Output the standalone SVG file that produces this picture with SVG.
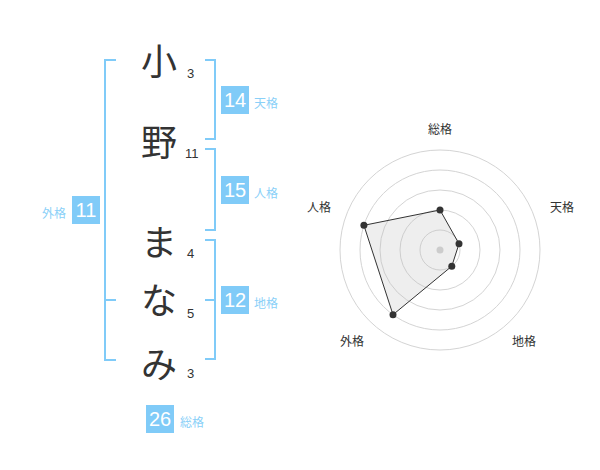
<svg xmlns="http://www.w3.org/2000/svg" width="600" height="470" viewBox="0 0 600 470">
<style>
.ch{font-family:"Noto Sans CJK JP",sans-serif;font-size:36px;fill:#333;text-anchor:middle;dominant-baseline:central}
.sn{font-family:"Liberation Sans","Noto Sans CJK JP",sans-serif;font-size:13px;fill:#333}
.br{fill:none;stroke:#80cbf8;stroke-width:2}
.bx{fill:#80cbf8}
.bn{font-family:"Liberation Sans",sans-serif;font-size:20px;fill:#fff;text-anchor:middle}
.lb{font-family:"Noto Sans CJK JP",sans-serif;font-size:12px;fill:#8ad0f8}
.ring{fill:none;stroke:#d4d4d4;stroke-width:1}
.rl{font-family:"Noto Sans CJK JP",sans-serif;font-size:12px;fill:#333;text-anchor:middle}
.pt{fill:#333}
</style>
<rect width="600" height="470" fill="#fff"/>
<g id="name-chars">
<g id="c1"><text class="ch" x="159" y="59">小</text><text class="sn" x="187" y="78">3</text></g>
<g id="c2"><text class="ch" x="159" y="140">野</text><text class="sn" x="185" y="158">11</text></g>
<g id="c3"><text class="ch" x="159" y="240">ま</text><text class="sn" x="187" y="258">4</text></g>
<g id="c4"><text class="ch" x="159" y="298">な</text><text class="sn" x="187" y="318">5</text></g>
<g id="c5"><text class="ch" x="159" y="362">み</text><text class="sn" x="187" y="378">3</text></g>
</g>
<g id="connectors">
<path class="br" d="M116,60 H105 V360 H116 M105,300 H116"/>
<path class="br" d="M205,60 H215 V139 H205"/>
<path class="br" d="M205,149 H215 V230 H205"/>
<path class="br" d="M205,240 H215 V359 H205 M215,300 H205"/>
</g>
<g id="tenkaku"><rect class="bx" x="221" y="86" width="28" height="28"/><text class="bn" x="235" y="107">14</text><text class="lb" x="254" y="108">天格</text></g>
<g id="jinkaku"><rect class="bx" x="221" y="176" width="28" height="28"/><text class="bn" x="235" y="197">15</text><text class="lb" x="254" y="198">人格</text></g>
<g id="chikaku"><rect class="bx" x="221" y="286" width="28" height="28"/><text class="bn" x="235" y="307">12</text><text class="lb" x="254" y="308">地格</text></g>
<g id="gaikaku"><rect class="bx" x="72" y="196" width="28" height="28"/><text class="bn" x="86" y="217">11</text><text class="lb" x="66" y="218" text-anchor="end">外格</text></g>
<g id="soukaku"><rect class="bx" x="146" y="405" width="28" height="28"/><text class="bn" x="160" y="426">26</text><text class="lb" x="180" y="427">総格</text></g>
<g id="radar">
<circle class="ring" cx="440" cy="250" r="20"/>
<circle class="ring" cx="440" cy="250" r="40"/>
<circle class="ring" cx="440" cy="250" r="60"/>
<circle class="ring" cx="440" cy="250" r="80"/>
<circle class="ring" cx="440" cy="250" r="100"/>
<polygon points="440,210 459,243.8 451.8,266.2 393,314.7 363.9,225.3" fill="#bbb" fill-opacity="0.25" stroke="#333" stroke-width="1"/>
<circle cx="440" cy="250" r="3.5" fill="#ccc"/>
<circle class="pt" cx="440" cy="210" r="3.5"/>
<circle class="pt" cx="459" cy="243.8" r="3.5"/>
<circle class="pt" cx="451.8" cy="266.2" r="3.5"/>
<circle class="pt" cx="393" cy="314.7" r="3.5"/>
<circle class="pt" cx="363.9" cy="225.3" r="3.5"/>
<text class="rl" x="440" y="134">総格</text>
<text class="rl" x="562" y="212">天格</text>
<text class="rl" x="524" y="346">地格</text>
<text class="rl" x="352" y="346">外格</text>
<text class="rl" x="319" y="212">人格</text>
</g>
</svg>
